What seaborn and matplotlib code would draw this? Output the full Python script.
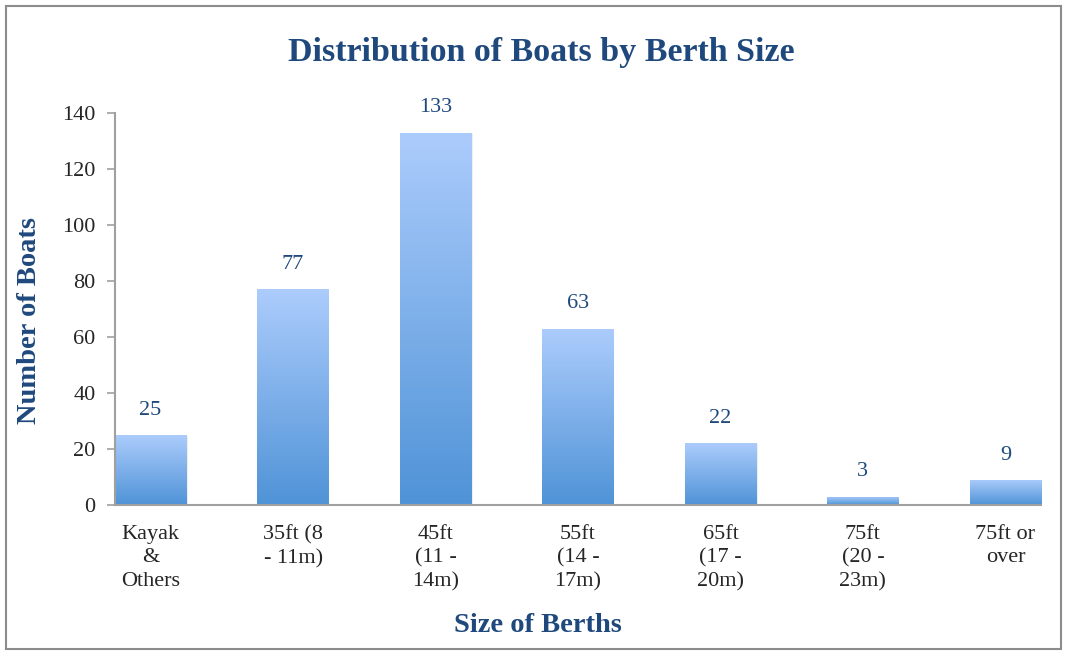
import numpy as np
import pandas as pd
import matplotlib
matplotlib.use("Agg")
import matplotlib.pyplot as plt
import seaborn as sns
from matplotlib.colors import LinearSegmentedColormap
from matplotlib.patches import Rectangle

categories = ["Kayak\n&\nOthers", "35ft (8\n- 11m)", "45ft\n(11 -\n14m)", "55ft\n(14 -\n17m)",
              "65ft\n(17 -\n20m)", "75ft\n(20 -\n23m)", "75ft or\nover"]
values = [25, 77, 133, 63, 22, 3, 9]
yticks = [0, 20, 40, 60, 80, 100, 120, 140]

title = "Distribution of Boats by Berth Size"
xlabel = "Size of Berths"
ylabel = "Number of Boats"

sns.set_style("white")
plt.rcParams['font.family'] = ['Liberation Serif', 'DejaVu Serif']

dark_blue = "#1f497d"
axis_gray = "#a0a0a0"

fig = plt.figure(figsize=(10.67, 6.52), dpi=100)
ax = fig.add_axes([115/1067, 1 - 505/652, (1041-115)/1067, (505-113)/652])

df = pd.DataFrame({"cat": categories, "val": values})
sns.barplot(data=df, x="cat", y="val", ax=ax, color="#7fb0ec", width=0.5, saturation=1)

cmap = LinearSegmentedColormap.from_list("g", ["#4f93d7", "#acccfc"])
grad = np.linspace(0, 1, 256).reshape(-1, 1)
for p in list(ax.patches):
    x0, y0 = p.get_x(), p.get_y()
    w, h = p.get_width(), p.get_height()
    sh = Rectangle((x0 + 0.012, y0), w, max(h - 0.3, 0), facecolor="#000000", alpha=0.08,
                   edgecolor="none", zorder=1.5)
    ax.add_patch(sh)
    im = ax.imshow(grad, cmap=cmap, aspect="auto", origin="lower",
                   extent=(x0, x0 + w, y0, y0 + h), zorder=2)
    im.set_clip_path(p)
    p.set_zorder(2)
    p.set_facecolor("none")

for i, v in enumerate(values):
    ax.annotate(str(v), (i, v), xytext=(0, 11), textcoords="offset points",
                ha="center", va="bottom", color=dark_blue, fontsize=16)

ax.set_xlim(-0.25, 6.25)
ax.set_ylim(0, 140)
ax.set_yticks(yticks)
ax.set_xticks(range(len(categories)))
ax.set_xticklabels(categories, fontsize=16, linespacing=1.3)
ax.tick_params(axis="y", left=True, length=6, width=1.2, color=axis_gray, labelsize=16, pad=8)
ax.tick_params(axis="x", bottom=False, pad=11)
for s in ["top", "right"]:
    ax.spines[s].set_visible(False)
for s in ["left", "bottom"]:
    ax.spines[s].set_color(axis_gray)
    ax.spines[s].set_linewidth(1.5)
ax.set_xlabel("")
ax.set_ylabel("")

fig.text(541/1067, 1 - 52/652, title, ha="center", va="center", fontsize=24.5,
         fontweight="bold", color=dark_blue)
fig.text(538/1067, 1 - 626/652, xlabel, ha="center", va="center", fontsize=20.5,
         fontweight="bold", color=dark_blue)
fig.text(30/1067, 1 - 320/652, ylabel, ha="center", va="center", fontsize=20.5,
         fontweight="bold", color=dark_blue, rotation=90)

border = Rectangle((6/1067, 1 - 649/652), (1061-6)/1067, (649-6)/652, transform=fig.transFigure,
                   fill=False, edgecolor="#8c8c8c", linewidth=1.5)
fig.add_artist(border)

fig.savefig("out.png", dpi=100)
